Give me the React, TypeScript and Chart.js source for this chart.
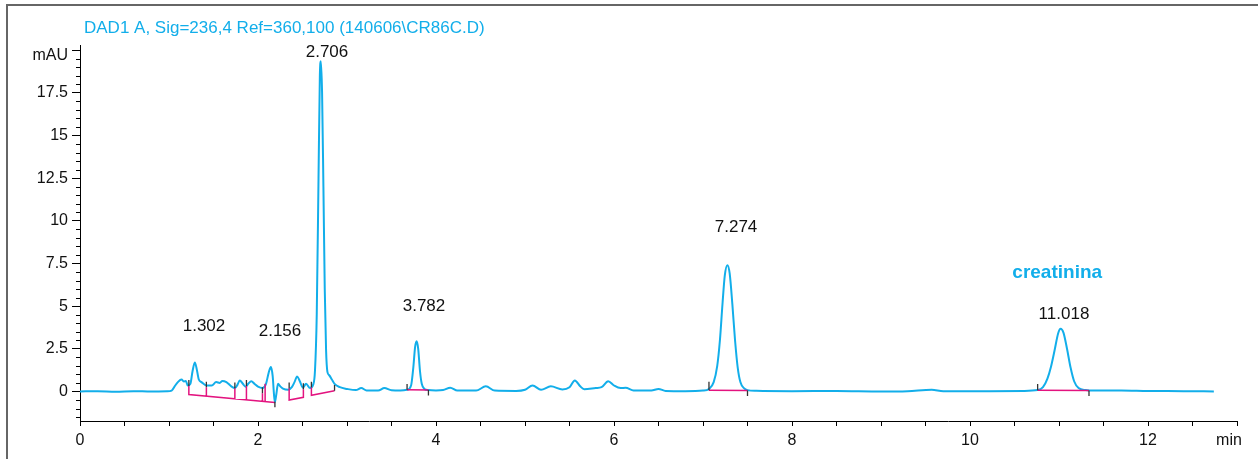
import React, { useEffect, useRef } from "react";
import { Chart, registerables } from "chart.js";

Chart.register(...registerables);

// ---- data ----
const traceTime = [
  0.0, 0.2, 0.4, 0.6, 0.8, 0.98, 1.03, 1.07, 1.1, 1.14, 1.17, 1.19, 1.21, 1.24, 1.265, 1.29, 1.31, 1.335,
  1.365, 1.42, 1.48, 1.53, 1.57, 1.6, 1.645, 1.7, 1.74, 1.77, 1.795, 1.83, 1.86, 1.89, 1.925, 1.96, 2.0,
  2.05, 2.09, 2.12, 2.145, 2.165, 2.18, 2.19, 2.205, 2.225, 2.25, 2.28, 2.34, 2.38, 2.41, 2.44, 2.47, 2.505,
  2.54, 2.585, 2.62, 2.64, 2.66, 2.68, 2.695, 2.706, 2.72, 2.735, 2.75, 2.765, 2.78, 2.8, 2.83, 2.86, 2.92,
  3.0, 3.1, 3.16, 3.22, 3.35, 3.42, 3.5, 3.6, 3.675, 3.72, 3.745, 3.765, 3.782, 3.8, 3.82, 3.84, 3.87,
  3.915, 4.0, 4.08, 4.16, 4.24, 4.45, 4.56, 4.66, 4.9, 5.0, 5.085, 5.18, 5.29, 5.42, 5.5, 5.56, 5.62,
  5.665, 5.795, 5.86, 5.935, 6.0, 6.075, 6.13, 6.22, 6.32, 6.42, 6.5, 6.58, 6.8, 7.0, 7.067, 7.12, 7.16,
  7.19, 7.22, 7.245, 7.274, 7.3, 7.33, 7.36, 7.39, 7.42, 7.46, 7.5, 7.6, 8.0, 8.5, 9.0, 9.3, 9.57, 9.7,
  10.2, 10.6, 10.76, 10.82, 10.87, 10.91, 10.95, 10.99, 11.018, 11.05, 11.09, 11.13, 11.17, 11.22, 11.3,
  11.4, 11.7, 12.0, 12.4, 12.74,
];
const traceMAU = [
  0.0, 0.02, -0.01, 0.02, 0.0, 0.01, 0.05, 0.35, 0.55, 0.7, 0.58, 0.62, 0.35, 0.45, 1.2, 1.7, 1.35, 0.7,
  0.55, 0.35, 0.35, 0.55, 0.5, 0.62, 0.55, 0.3, 0.2, 0.4, 0.65, 0.45, 0.28, 0.45, 0.6, 0.45, 0.28,
  0.2, 0.45, 1.1, 1.43, 0.9, -0.2, -0.63, -0.2, 0.45, 0.3, 0.17, 0.1, 0.25, 0.55, 0.88, 0.6, 0.22,
  0.45, 0.2, 0.4, 1.2, 4.5, 12.5, 18.5, 19.35, 17.5, 12.0, 6.0, 2.4, 1.15, 0.95, 0.7, 0.45, 0.25,
  0.15, 0.08, 0.2, 0.06, 0.05, 0.2, 0.07, 0.06, 0.1, 0.35, 1.4, 2.6, 2.94, 2.5, 1.2, 0.45, 0.15,
  0.08, 0.06, 0.08, 0.22, 0.05, 0.05, 0.3, 0.05, 0.03, 0.1, 0.35, 0.1, 0.3, 0.12, 0.25, 0.65, 0.3,
  0.13, 0.2, 0.25, 0.6, 0.35, 0.2, 0.22, 0.06, 0.05, 0.06, 0.15, 0.03, 0.02, 0.05, 0.15, 0.55, 1.5,
  3.0, 5.2, 6.8, 7.4, 6.9, 5.1, 3.0, 1.4, 0.55, 0.2, 0.08, 0.04, 0.02, 0.03, 0.0, 0.02, 0.1, 0.01,
  0.02, 0.03, 0.08, 0.25, 0.75, 1.45, 2.4, 3.4, 3.68, 3.45, 2.5, 1.4, 0.6, 0.2, 0.08,
  0.05, 0.06, 0.03, 0.02, 0.0,
];

// integration baselines: [time, mAU] polylines
const baselinePaths = [
  [[1.223, 0.32], [1.223, -0.18], [2.19, -0.65]],
  [[2.35, 0.19], [2.35, -0.5], [2.51, -0.34], [2.51, 0.13]],
  [[2.6, 0.25], [2.6, -0.22], [2.86, 0.04]],
  [[3.675, 0.1], [3.915, 0.08]],
  [[7.067, 0.07], [7.5, 0.05]],
  [[10.76, 0.07], [11.337, 0.05]],
];
// peak separation drop lines: [time, top mAU, bottom mAU]
const dropLines = [
  [1.42, 0.25, -0.28],
  [1.74, 0.19, -0.44],
  [1.87, 0.32, -0.5],
  [2.05, -0.1, -0.6],
  [2.08, 0.45, -0.61],
];
// integration event tick marks: [time, top mAU, bottom mAU]
const eventTicks = [
  [1.223, 0.67, 0.32],
  [1.42, 0.57, 0.25],
  [1.74, 0.52, 0.19],
  [1.87, 0.67, 0.32],
  [2.05, 0.25, -0.1],
  [2.19, -0.6, -0.92],
  [2.35, 0.52, 0.19],
  [2.51, 0.48, 0.13],
  [2.6, 0.57, 0.25],
  [2.86, 0.38, 0.04],
  [3.675, 0.44, 0.1],
  [3.915, 0.08, -0.24],
  [7.067, 0.57, 0.07],
  [7.5, 0.05, -0.26],
  [10.76, 0.44, 0.07],
  [11.337, 0.05, -0.26],
];

const peakLabels = ["1.302", "2.156", "2.706", "3.782", "7.274", "11.018"];
const peakLabelTime = [1.393, 2.247, 2.775, 3.865, 7.371, 11.056];
const peakLabelMAU = [3.84, 3.54, 19.9, 5.0, 9.6, 4.54];

const compoundName = "creatinina";
const compoundTime = 10.98;
const compoundMAU = 6.96;

const yTickValues = [0, 2.5, 5, 7.5, 10, 12.5, 15, 17.5, 20];
const yTickLabels = ["0", "2.5", "5", "7.5", "10", "12.5", "15", "17.5", ""];
const yUnit = "mAU";
const xTickValues = [0, 2, 4, 6, 8, 10, 12];
const xTickLabels = ["0", "2", "4", "6", "8", "10", "12"];
const xUnit = "min";
const titleText = "DAD1 A, Sig=236,4 Ref=360,100 (140606\\CR86C.D)";

const CYAN = "#12aeea";
const MAGENTA = "#e3137f";
const FONT = '"Liberation Sans", Arial, Helvetica, sans-serif';

function segmentsToData(list: number[][]) {
  const out: { x: number; y: number | null }[] = [];
  list.forEach(([t, a, b]) => {
    out.push({ x: t, y: a }, { x: t, y: b }, { x: t, y: null });
  });
  return out;
}

function pathsToData(paths: number[][][]) {
  const out: { x: number; y: number | null }[] = [];
  paths.forEach((p) => {
    p.forEach(([t, v]) => out.push({ x: t, y: v }));
    out.push({ x: p[p.length - 1][0], y: null });
  });
  return out;
}

const annotations = {
  id: "annotations",
  afterDraw(chart: any) {
    const { ctx, chartArea, scales } = chart;
    const xs = scales.x;
    const ys = scales.y;
    ctx.save();
    // minor ticks on y axis
    ctx.strokeStyle = "#000";
    ctx.lineWidth = 1;
    for (let i = -3; i <= 40; i++) {
      const v = i * 0.5;
      if (i % 5 === 0) continue;
      const py = Math.round(ys.getPixelForValue(v)) + 0.5;
      if (py < chartArea.top || py > chartArea.bottom) continue;
      ctx.beginPath();
      ctx.moveTo(chartArea.left - 4, py);
      ctx.lineTo(chartArea.left, py);
      ctx.stroke();
    }
    // y unit
    ctx.fillStyle = "#111";
    ctx.font = `16px ${FONT}`;
    ctx.textAlign = "right";
    ctx.textBaseline = "middle";
    ctx.fillText(yUnit, chartArea.left - 12, ys.getPixelForValue(20) + 5);
    // title
    ctx.fillStyle = CYAN;
    ctx.font = `17px ${FONT}`;
    ctx.textAlign = "left";
    ctx.fillText(titleText, chartArea.left + 4, 28);
    // peak labels
    ctx.fillStyle = "#111";
    ctx.textAlign = "center";
    peakLabels.forEach((s, i) => {
      ctx.fillText(s, xs.getPixelForValue(peakLabelTime[i]), ys.getPixelForValue(peakLabelMAU[i]));
    });
    // compound name
    ctx.fillStyle = CYAN;
    ctx.font = `bold 19px ${FONT}`;
    ctx.fillText(compoundName, xs.getPixelForValue(compoundTime), ys.getPixelForValue(compoundMAU));
    // x unit
    ctx.fillStyle = "#111";
    ctx.font = `16px ${FONT}`;
    ctx.fillText(xUnit, xs.getPixelForValue(13) - 8, chartArea.bottom + 20);
    ctx.restore();
  },
};

export default function App() {
  const ref = useRef<HTMLCanvasElement>(null);
  useEffect(() => {
    if (!ref.current) return;
    const chart = new Chart(ref.current, {
      type: "line",
      data: {
        datasets: [
          {
            data: traceTime.map((t, i) => ({ x: t, y: traceMAU[i] })),
            borderColor: CYAN,
            borderWidth: 2,
            pointRadius: 0,
            cubicInterpolationMode: "monotone",
            order: 3,
          },
          {
            data: [...pathsToData(baselinePaths), ...segmentsToData(dropLines)],
            borderColor: MAGENTA,
            borderWidth: 1.5,
            pointRadius: 0,
            spanGaps: false,
            tension: 0,
            order: 2,
          },
          {
            data: segmentsToData(eventTicks),
            borderColor: "#333",
            borderWidth: 1.3,
            pointRadius: 0,
            spanGaps: false,
            tension: 0,
            order: 1,
          },
        ],
      },
      options: {
        animation: false,
        responsive: false,
        devicePixelRatio: 1,
        layout: { padding: { left: 0, top: 45, right: 21, bottom: 0 } },
        plugins: { legend: { display: false }, tooltip: { enabled: false }, title: { display: false } },
        scales: {
          x: {
            type: "linear",
            min: 0,
            max: 13,
            afterBuildTicks: (s: any) => {
              const t = [];
              for (let i = 0; i <= 26; i++) t.push({ value: i * 0.5 });
              s.ticks = t;
            },
            afterFit: (s: any) => {
              s.height = 38;
            },
            ticks: {
              autoSkip: false,
              maxRotation: 0,
              padding: 5,
              color: "#111",
              font: { family: FONT, size: 16 },
              callback: (v: any) => {
                const k = xTickValues.indexOf(Number(v));
                return k >= 0 ? xTickLabels[k] : "";
              },
            },
            grid: { drawOnChartArea: false, drawTicks: true, tickLength: 5, color: "#000" },
            border: { display: true, color: "#000", width: 1 },
          },
          y: {
            type: "linear",
            min: -1.73,
            max: 20.3,
            afterBuildTicks: (s: any) => {
              s.ticks = yTickValues.map((v) => ({ value: v }));
            },
            afterFit: (s: any) => {
              s.width = 80;
            },
            ticks: {
              autoSkip: false,
              padding: 4,
              color: "#111",
              font: { family: FONT, size: 16 },
              callback: (v: any) => {
                const k = yTickValues.indexOf(Number(v));
                return k >= 0 ? yTickLabels[k] : "";
              },
            },
            grid: { drawOnChartArea: false, drawTicks: true, tickLength: 8, color: "#000" },
            border: { display: true, color: "#000", width: 1 },
          },
        },
      },
      plugins: [annotations],
    } as any);
    return () => chart.destroy();
  }, []);

  return (
    <div style={{ position: "fixed", left: 0, top: 0, width: 1258, height: 459, overflow: "hidden", background: "#fff" }}>
      <div
        style={{
          position: "absolute",
          left: 6,
          top: 4,
          width: 1300,
          height: 500,
          borderLeft: "2px solid #666",
          borderTop: "2px solid #666",
        }}
      />
      <canvas ref={ref} width={1258} height={459} style={{ position: "absolute", left: 0, top: 0, width: 1258, height: 459 }} />
    </div>
  );
}
